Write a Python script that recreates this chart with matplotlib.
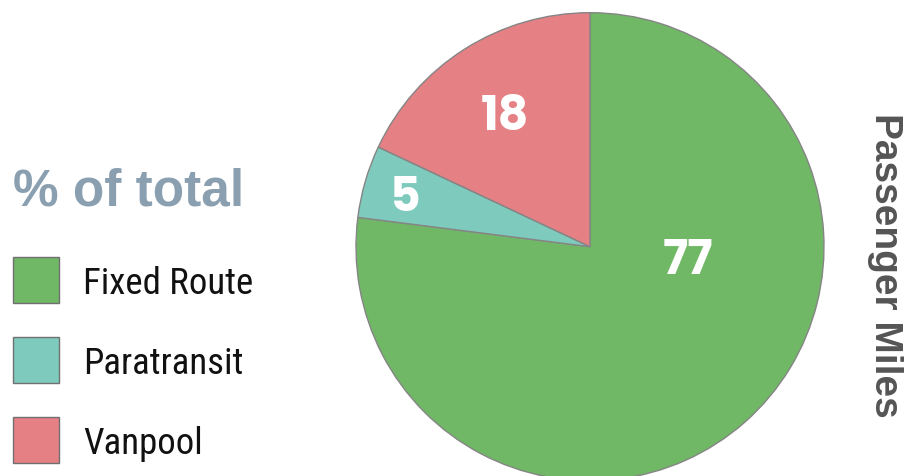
import numpy as np
import matplotlib.pyplot as plt
from matplotlib.patches import Rectangle

categories = ["Fixed Route", "Paratransit", "Vanpool"]
shares = [77, 5, 18]
colors = ["#70b865", "#7ecabd", "#e58084"]
edge = "#858585"

# where each number sits inside its slice (fraction of radius, angle override)
label_dist = [0.42, 0.82, 0.68]
label_angle = [-6, None, None]

fig = plt.figure(figsize=(9.22, 4.76), dpi=100)
W, H = 922, 476

# pie axes, sized in pixels
r_px = 234
cx, cy = 590, 476 - 246.7
ax = fig.add_axes([(cx - r_px) / W, (cy - r_px) / H, 2 * r_px / W, 2 * r_px / H])
wedges, _ = ax.pie(shares, colors=colors, startangle=90, counterclock=False,
                   radius=1, wedgeprops=dict(edgecolor=edge, linewidth=1.0))
ax.set_xlim(-1, 1)
ax.set_ylim(-1, 1)
ax.set_aspect("equal")
ax.axis("off")

for w, val, d, ang in zip(wedges, shares, label_dist, label_angle):
    theta = np.deg2rad(ang if ang is not None else (w.theta1 + w.theta2) / 2)
    ax.text(d * np.cos(theta), d * np.sin(theta), str(val), color="white",
            fontsize=34, fontweight="bold", family="Poppins",
            ha="center", va="center_baseline")

# legend built by hand on the figure
fig.text(13 / W, 1 - 187 / H, "% of total", color="#8a9fb0", fontsize=37,
         fontweight="bold", family="Liberation Sans", ha="left", va="center_baseline")

box_top = [257, 337, 417]
for name, col, top in zip(categories, colors, box_top):
    fig.patches.append(Rectangle((13 / W, 1 - (top + 46) / H), 46 / W, 46 / H,
                                 transform=fig.transFigure, facecolor=col,
                                 edgecolor="#707070", linewidth=1.0))
    fig.text(83 / W, 1 - (top + 23) / H, name, color="#111111", fontsize=26.5,
             family="Roboto Condensed", ha="left", va="center_baseline")

fig.text(885 / W, 1 - 265 / H, "Passenger Miles", color="#555555", fontsize=28,
         fontweight="bold", family="Liberation Sans", rotation=270,
         ha="center", va="center")

fig.savefig("out.png", dpi=100)
